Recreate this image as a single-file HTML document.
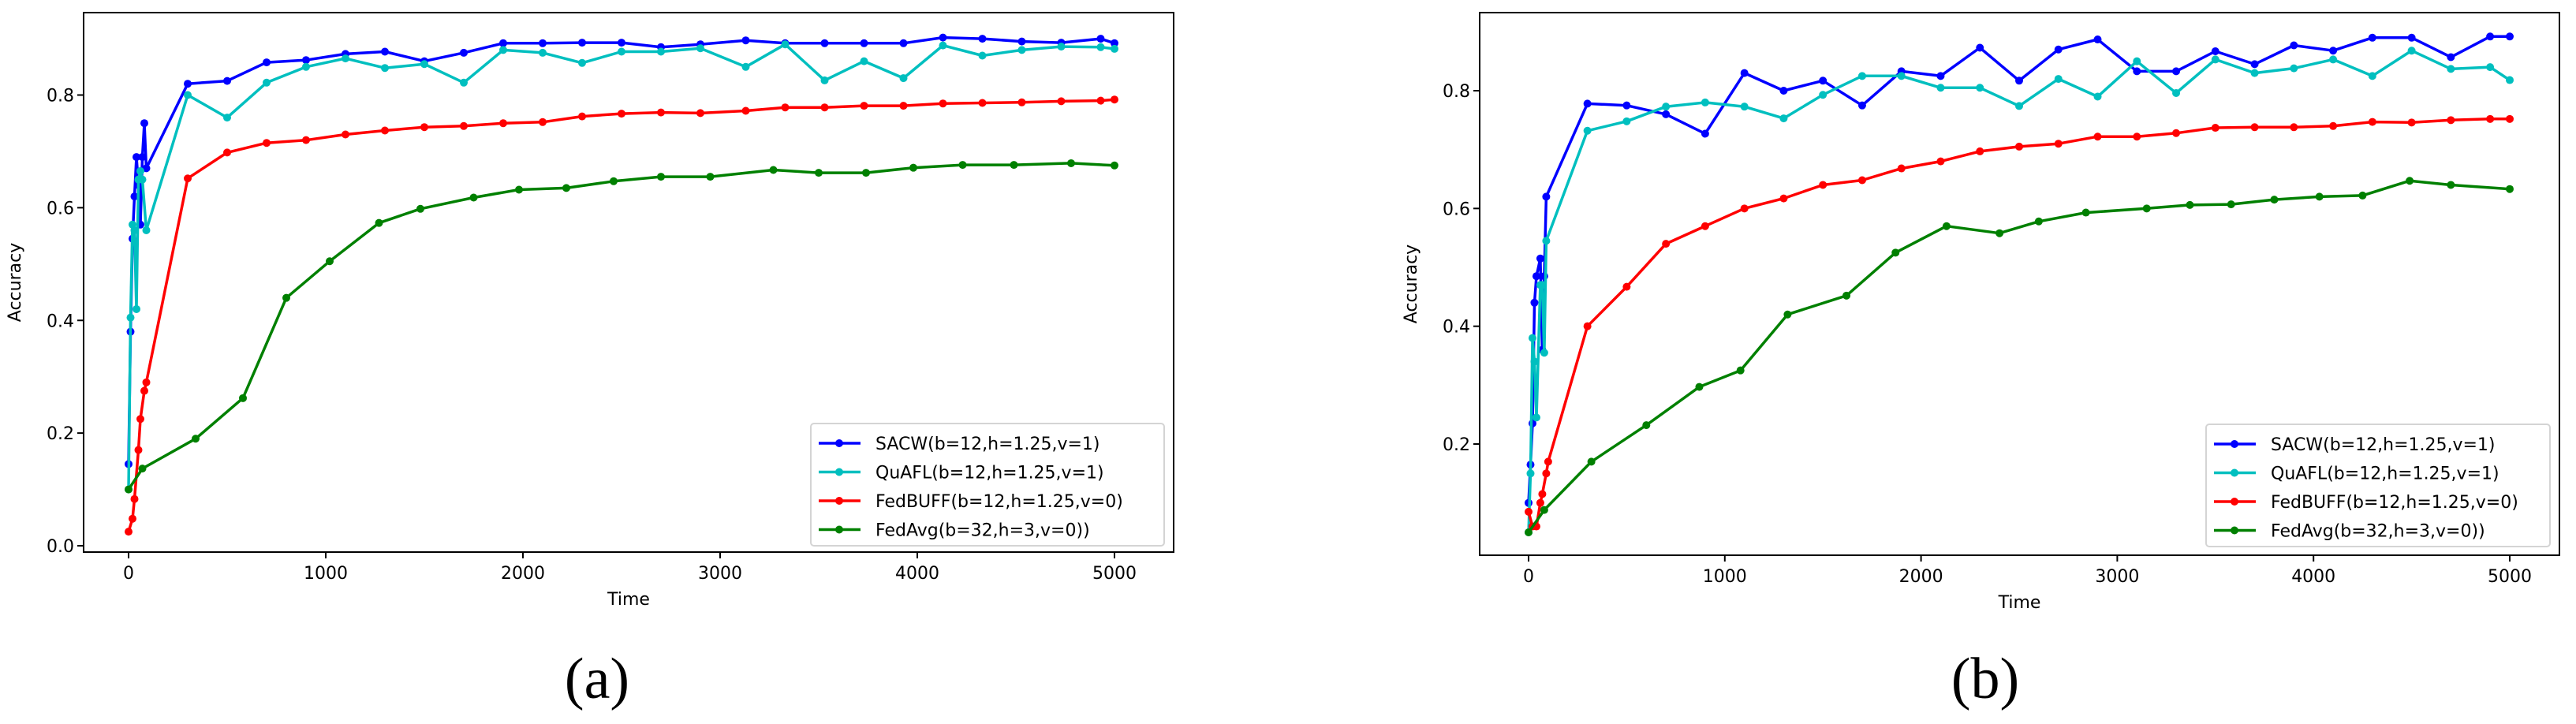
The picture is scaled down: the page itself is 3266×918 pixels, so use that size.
<!DOCTYPE html>
<html><head><meta charset="utf-8"><style>
body{margin:0;background:#fff;width:3266px;height:913px;overflow:hidden}
svg{font-family:"DejaVu Sans","Liberation Sans",sans-serif}
</style></head><body>
<svg id="s" width="3266" height="913"></svg>
<script>
const seriesNames=["SACW(b=12,h=1.25,v=1)","QuAFL(b=12,h=1.25,v=1)","FedBUFF(b=12,h=1.25,v=0)","FedAvg(b=32,h=3,v=0))"];
const seriesColors=["#0000ff","#00bfbf","#ff0000","#008000"];
const xTicks=[0,1000,2000,3000,4000,5000];
const yTicksA=[0.0,0.2,0.4,0.6,0.8];
const yTicksB=[0.2,0.4,0.6,0.8];
const commonX=[300,500,700,900,1100,1300,1500,1700,1900,2100,2300,2500,2700,2900,3130,3330,3530,3730,3930,4130,4330,4530,4730,4930,5000];
const aSacwX=[0,10,20,30,40,50,60,70,80,90].concat(commonX);
const aSacwY=[0.145,0.38,0.545,0.62,0.69,0.64,0.57,0.69,0.75,0.67,0.82,0.825,0.858,0.862,0.873,0.877,0.86,0.875,0.892,0.892,0.893,0.893,0.885,0.89,0.897,0.892,0.892,0.892,0.892,0.902,0.9,0.895,0.893,0.9,0.892];
const aQuaflX=[0,10,20,30,40,50,60,70,90].concat(commonX);
const aQuaflY=[0.1,0.405,0.57,0.56,0.42,0.65,0.665,0.65,0.56,0.8,0.76,0.822,0.85,0.865,0.848,0.855,0.822,0.88,0.875,0.857,0.877,0.877,0.883,0.85,0.89,0.826,0.86,0.83,0.888,0.87,0.88,0.886,0.885,0.882];
const aBuffX=[0,20,30,50,60,80,90].concat(commonX);
const aBuffY=[0.025,0.048,0.083,0.17,0.225,0.275,0.29,0.652,0.698,0.715,0.72,0.73,0.737,0.743,0.745,0.75,0.752,0.762,0.767,0.769,0.768,0.772,0.778,0.778,0.781,0.781,0.785,0.786,0.787,0.789,0.79,0.792];
const aAvgX=[0,70,340,580,800,1020,1270,1480,1750,1980,2220,2460,2700,2950,3270,3500,3740,3980,4230,4490,4780,5000];
const aAvgY=[0.1,0.137,0.19,0.262,0.44,0.505,0.573,0.598,0.618,0.632,0.635,0.647,0.655,0.655,0.667,0.662,0.662,0.671,0.676,0.676,0.679,0.675];
const commonXB=[300,500,700,900,1100,1300,1500,1700,1900,2100,2300,2500,2700,2900,3100,3300,3500,3700,3900,4100,4300,4500,4700,4900,5000];
const bSacwX=[0,10,20,30,40,60,70,80,90].concat(commonXB);
const bSacwY=[0.1,0.165,0.235,0.44,0.485,0.515,0.36,0.485,0.62,0.778,0.775,0.76,0.727,0.83,0.8,0.817,0.775,0.833,0.825,0.873,0.817,0.87,0.887,0.833,0.833,0.867,0.845,0.877,0.868,0.89,0.89,0.857,0.892,0.892];
const bQuaflX=[0,10,20,30,40,60,70,80,90].concat(commonXB);
const bQuaflY=[0.05,0.15,0.38,0.34,0.245,0.47,0.47,0.355,0.545,0.732,0.748,0.773,0.78,0.773,0.753,0.793,0.825,0.825,0.805,0.805,0.774,0.82,0.79,0.85,0.796,0.853,0.83,0.838,0.853,0.825,0.868,0.837,0.84,0.818];
const bBuffX=[0,20,40,60,70,90,100].concat(commonXB);
const bBuffY=[0.085,0.06,0.06,0.1,0.115,0.15,0.17,0.4,0.467,0.54,0.57,0.6,0.617,0.64,0.648,0.668,0.68,0.697,0.705,0.71,0.722,0.722,0.728,0.737,0.738,0.738,0.74,0.747,0.746,0.75,0.752,0.752];
const bAvgX=[0,80,320,600,870,1080,1320,1620,1870,2130,2400,2600,2840,3150,3370,3580,3800,4030,4250,4490,4700,5000];
const bAvgY=[0.05,0.088,0.17,0.232,0.297,0.325,0.42,0.452,0.525,0.57,0.558,0.578,0.593,0.6,0.606,0.607,0.615,0.62,0.622,0.647,0.64,0.633];

const NS="http://www.w3.org/2000/svg";
const svg=document.getElementById('s');
function mk(tag,attrs,parent,text){const e=document.createElementNS(NS,tag);for(const k in attrs)e.setAttribute(k,attrs[k]);if(text!==undefined)e.textContent=text;(parent||svg).appendChild(e);return e;}

function chart(cfg){
  const g=mk('g',{});
  
  
  const xs=v=>cfg.x0+(v)*(cfg.x5-cfg.x0)/5000;
  const ys=v=>cfg.yRef0+(v-cfg.v0)*(cfg.yRef1-cfg.yRef0)/(cfg.v1-cfg.v0);
  const box=mk('rect',{x:cfg.L,y:cfg.T,width:cfg.R-cfg.L,height:cfg.B-cfg.T,fill:'none',stroke:'#000','stroke-width':2},g);
  
  
  xTicks.forEach(t=>{
    const X=xs(t);
    mk('line',{x1:X,x2:X,y1:cfg.B,y2:cfg.B+8,stroke:'#000','stroke-width':2},g);
    const tx=mk('text',{x:X,y:cfg.B+34,'font-size':22,'text-anchor':'middle'},g,String(t));
    
    
  });
  cfg.yt.forEach(t=>{
    const Y=ys(t);
    mk('line',{x1:cfg.L-8,x2:cfg.L,y1:Y,y2:Y,stroke:'#000','stroke-width':2},g);
    const tx=mk('text',{x:cfg.L-12,y:Y+8,'font-size':22,'text-anchor':'end'},g,t.toFixed(1));
    
    
  });
  const xl=mk('text',{x:(cfg.L+cfg.R)/2,y:cfg.B+67,'font-size':22,'text-anchor':'middle'},g,'Time');
  
  
  const ylx=cfg.L-80;
  const yl=mk('text',{x:ylx,y:(cfg.T+cfg.B)/2,'font-size':22,'text-anchor':'middle',transform:`rotate(-90 ${ylx} ${(cfg.T+cfg.B)/2})`},g,'Accuracy');
  
  
  cfg.series.forEach((s,i)=>{
    const sg=mk('g',{},g);
    
    
    const pts=s[0].map((x,j)=>xs(x).toFixed(1)+','+ys(s[1][j]).toFixed(1)).join(' ');
    mk('polyline',{points:pts,fill:'none',stroke:seriesColors[i],'stroke-width':3.5,'stroke-linejoin':'round'},sg);
    s[0].forEach((x,j)=>{
      const c=mk('circle',{cx:xs(x),cy:ys(s[1][j]),r:5,fill:seriesColors[i]},sg);
      
      
    });
  });
  const lg=mk('g',{},g);
  
  
  mk('rect',{x:cfg.lx,y:cfg.ly,width:cfg.lw,height:155,rx:4,fill:'#fff','fill-opacity':0.8,stroke:'#d4d4d4','stroke-width':2},lg);
  seriesNames.forEach((n,i)=>{
    const Y=cfg.ly+25+i*36.5;
    const e=mk('g',{},lg);
    
    
    mk('line',{x1:cfg.lx+10,x2:cfg.lx+63,y1:Y,y2:Y,stroke:seriesColors[i],'stroke-width':3.5},e);
    mk('circle',{cx:cfg.lx+36,cy:Y,r:5,fill:seriesColors[i]},e);
    mk('text',{x:cfg.lx+82,y:Y+8,'font-size':22},e,n);
  });
  const cap=mk('text',{x:cfg.capX,y:885,'font-size':74,'text-anchor':'middle','font-family':'"Liberation Serif",serif'},g,cfg.cap);
  
  
}
chart({name:'chart-a',L:106,R:1488,T:16,B:700,x0:163,x5:1413,v0:0,v1:0.8,yRef0:692,yRef1:120.5,yt:yTicksA,
  series:[[aSacwX,aSacwY],[aQuaflX,aQuaflY],[aBuffX,aBuffY],[aAvgX,aAvgY]],lx:1028,ly:537,lw:448,capX:757,cap:'(a)'});
chart({name:'chart-b',L:1876,R:3245,T:16,B:704,x0:1938,x5:3182,v0:0.2,v1:0.8,yRef0:563,yRef1:115,yt:yTicksB,
  series:[[bSacwX,bSacwY],[bQuaflX,bQuaflY],[bBuffX,bBuffY],[bAvgX,bAvgY]],lx:2797,ly:538,lw:436,capX:2517,cap:'(b)'});
</script>
</body></html>
